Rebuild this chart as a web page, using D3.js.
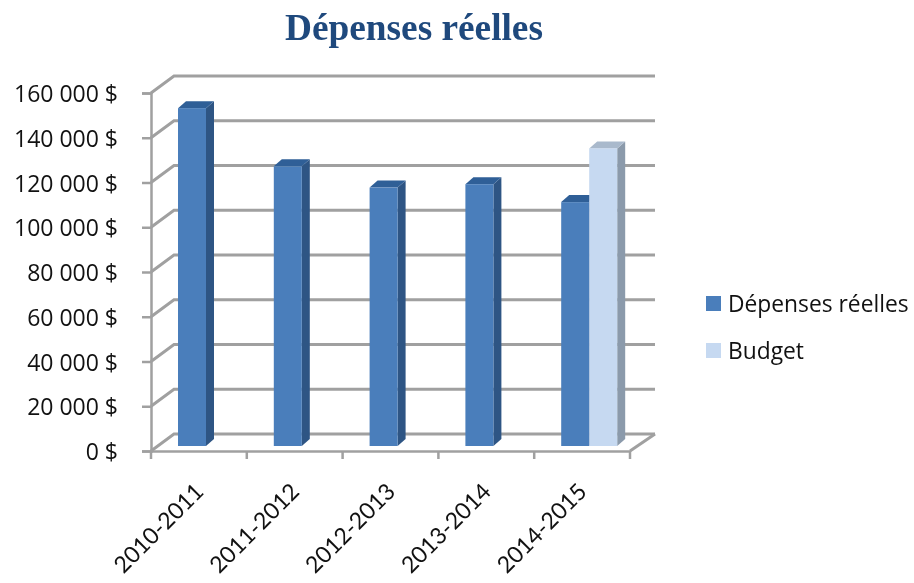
<!DOCTYPE html>
<html>
<head>
<meta charset="utf-8">
<title>Dépenses réelles</title>
<script src="https://d3js.org/d3.v7.min.js"></script>
<style>
  html, body { margin: 0; padding: 0; background: #fff; }
  svg { display: block; filter: blur(0.55px); }
  .title { font-family: "Liberation Serif", serif; font-weight: bold; font-size: 37.3px; fill: #1f497d; text-anchor: middle; }
  .axis text { font-family: "Open Sans", sans-serif; font-size: 23px; fill: #111; }
  .axis path, .axis line { stroke: #a0a0a0; stroke-width: 2.5px; }
  .grid { stroke: #a0a0a0; stroke-width: 3px; fill: none; }
  .legend text { font-family: "Open Sans", sans-serif; font-size: 22.8px; fill: #111; }
  .catLabel { font-family: Lato, sans-serif; font-size: 23px; fill: #111; }
</style>
</head>
<body>
<div id="chart"></div>
<script>
var categories = ["2010-2011", "2011-2012", "2012-2013", "2013-2014", "2014-2015"];
var depenses = [151000, 125000, 115500, 117000, 109000];
var budget = [null, null, null, null, 133000];
var tickValues = [0, 20000, 40000, 60000, 80000, 100000, 120000, 140000, 160000];
var seriesNames = ["Dépenses réelles", "Budget"];
var seriesValues = [depenses, budget];
var faceColors = ["#4a7ebb", "#c6d9f1"];
var topColors = ["#2f5f97", "#a9b9cc"];
var sideColors = ["#2e5584", "#8b9aab"];

var width = 914, height = 583;
var wallX = 23, wallY = -17;   // depth of the 3D box
var barDX = 8, barDY = -7;     // depth of a bar
var barBase = -5;              // bars stand a little behind the front edge

var svg = d3.select("#chart").append("svg")
  .attr("width", width)
  .attr("height", height);

var x = d3.scaleBand().domain(categories).range([151, 630]);
var xSeries = d3.scaleBand().domain(seriesNames).range([27, 83]);
var y = d3.scaleLinear().domain([0, 160000]).range([451, 93]);

svg.append("text")
  .attr("class", "title")
  .attr("x", 414)
  .attr("y", 40)
  .text("Dépenses réelles");

// back wall and floor lines
var grid = svg.append("g");
grid.selectAll("path")
  .data(tickValues)
  .enter()
  .append("path")
  .attr("class", "grid")
  .attr("d", function(d) {
    return d3.line()([
      [x.range()[0], y(d)],
      [x.range()[0] + wallX, y(d) + wallY],
      [x.range()[1] + wallX + 2, y(d) + wallY]
    ]);
  });
grid.append("path")
  .attr("class", "grid")
  .attr("d", d3.line()([
    [x.range()[1], y(0)],
    [x.range()[1] + wallX + 2, y(0) + wallY]
  ]));

// axes
var yAxis = d3.axisLeft(y)
  .tickValues(tickValues)
  .tickSize(9)
  .tickPadding(24)
  .tickFormat(function(d) { return d3.format(",")(d).replace(/,/g, " ") + " $"; });
var yAxisG = svg.append("g")
  .attr("class", "axis")
  .attr("transform", "translate(151,0)")
  .call(yAxis);
yAxisG.selectAll("text").attr("dy", "0.37em");

var xAxis = d3.axisBottom(x).tickSize(0).tickFormat("");
var xAxisG = svg.append("g")
  .attr("class", "axis")
  .attr("transform", "translate(0,451)")
  .call(xAxis);
xAxisG.selectAll(".edge")
  .data(d3.range(categories.length + 1))
  .enter()
  .append("line")
  .attr("class", "edge")
  .attr("x1", function(i) { return x.range()[0] + i * x.step(); })
  .attr("x2", function(i) { return x.range()[0] + i * x.step(); })
  .attr("y1", 0)
  .attr("y2", 8);

svg.selectAll(".catLabel")
  .data(categories)
  .enter()
  .append("text")
  .attr("class", "catLabel")
  .attr("text-anchor", "end")
  .attr("transform", function(d) {
    return "translate(" + (x(d) + 54) + ",493) rotate(-45)";
  })
  .text(function(d) { return d; });

// bars, series by series so the later one overlaps
seriesNames.forEach(function(name, s) {
  var values = seriesValues[s];
  var data = categories.map(function(c, i) { return { cat: c, value: values[i] }; })
    .filter(function(d) { return d.value !== null; });
  var w = xSeries.bandwidth();

  var bars = svg.append("g").selectAll("g")
    .data(data)
    .enter()
    .append("g")
    .attr("transform", function(d) {
      return "translate(" + (x(d.cat) + xSeries(name)) + ",0)";
    });

  // side
  bars.append("path")
    .attr("fill", sideColors[s])
    .attr("d", function(d) {
      var top = y(d.value) + barBase, bottom = y(0) + barBase;
      return d3.line()([
        [w, top], [w + barDX, top + barDY],
        [w + barDX, bottom + barDY], [w, bottom]
      ]);
    });
  // top
  bars.append("path")
    .attr("fill", topColors[s])
    .attr("d", function(d) {
      var top = y(d.value) + barBase;
      return d3.line()([
        [0, top], [barDX, top + barDY],
        [w + barDX, top + barDY], [w, top]
      ]);
    });
  // face
  bars.append("rect")
    .attr("fill", faceColors[s])
    .attr("x", 0)
    .attr("width", w)
    .attr("y", function(d) { return y(d.value) + barBase; })
    .attr("height", function(d) { return y(0) - y(d.value); });
});

// legend
var legend = svg.append("g").attr("class", "legend")
  .selectAll("g")
  .data(seriesNames)
  .enter()
  .append("g")
  .attr("transform", function(d, i) { return "translate(706," + (296 + i * 47) + ")"; });
legend.append("rect")
  .attr("width", 15)
  .attr("height", 15)
  .attr("fill", function(d, i) { return faceColors[i]; });
legend.append("text")
  .attr("x", 22)
  .attr("y", 16)
  .text(function(d) { return d; });
</script>
</body>
</html>
